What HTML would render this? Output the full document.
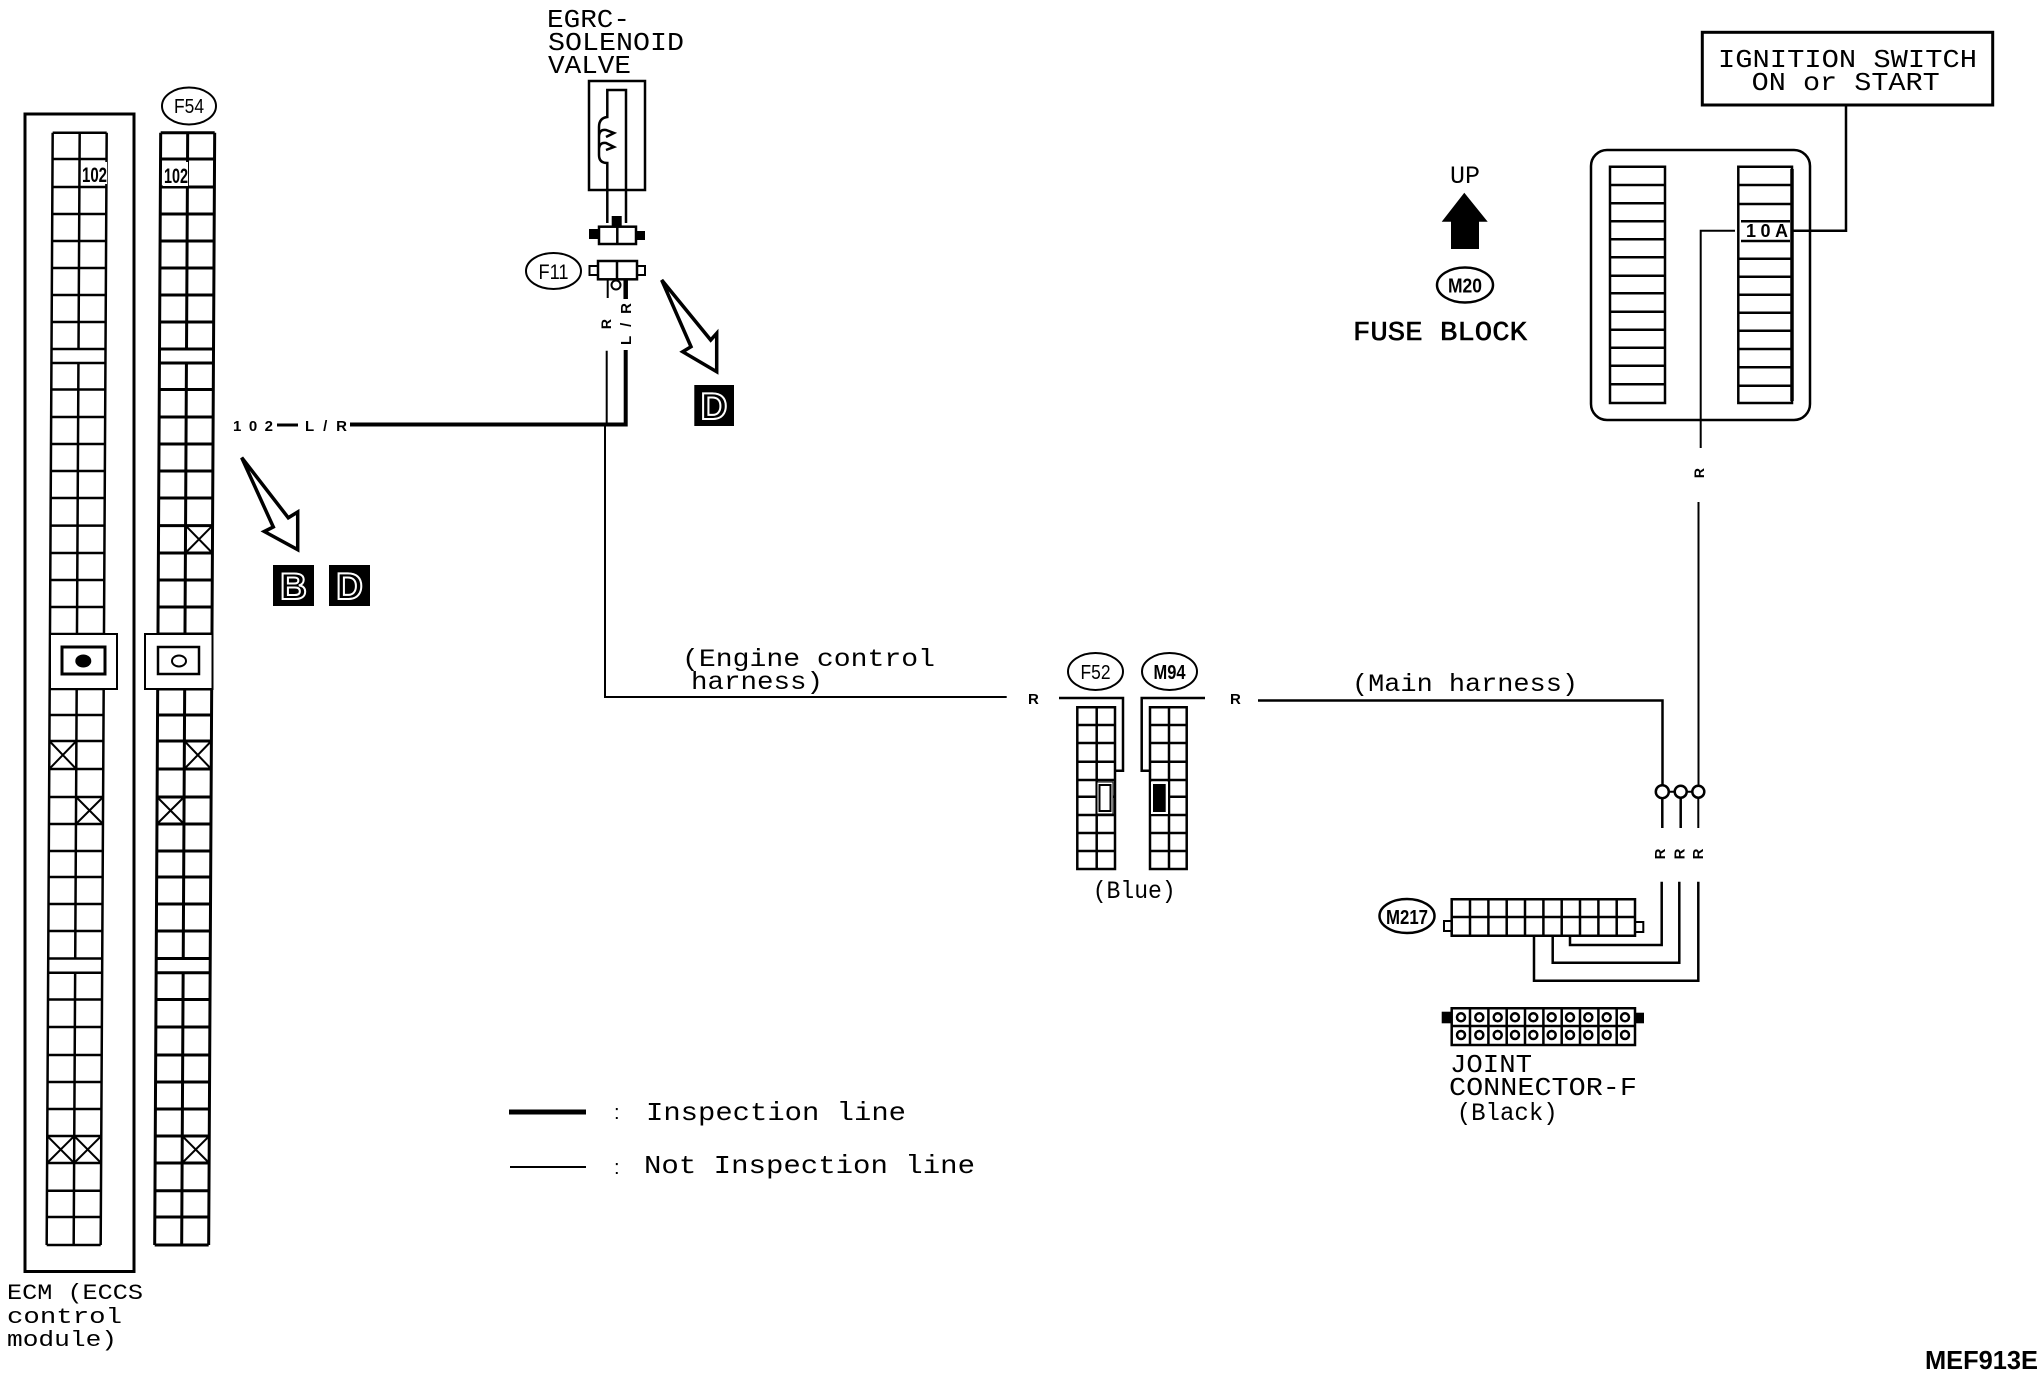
<!DOCTYPE html>
<html><head><meta charset="utf-8"><title>MEF913E</title>
<style>html,body{margin:0;padding:0;background:#fff}svg{display:block}
text{font-family:"Liberation Sans",sans-serif;fill:#000}
text.m{font-family:"Liberation Mono",monospace}
.b{font-weight:bold}</style></head><body>
<svg width="2044" height="1376" viewBox="0 0 2044 1376" xmlns="http://www.w3.org/2000/svg">
<rect width="2044" height="1376" fill="#fff"/>
<defs>
<path id="g" fill="none" stroke="#000" d="M0 132.7H54M0 159H54M0 187H54M0 214H54M0 241H54M0 268H54M0 295H54M0 322H54M0 349H54M0 363H54M0 389.5H54M0 417H54M0 444H54M0 471H54M0 498H54M0 525.6H54M0 553H54M0 580H54M0 607H54M0 634H54M0 689H54M0 715H54M0 741H54M0 769H54M0 797H54M0 824H54M0 851H54M0 877H54M0 904H54M0 931H54M0 958.5H54M0 972.7H54M0 999.5H54M0 1027H54M0 1055H54M0 1082H54M0 1109H54M0 1136H54M0 1163H54M0 1190.7H54M0 1217H54M0 1245H54M0 132.7V1245M54 132.7V1245M27 132.7V349M27 363V958.5M27 972.7V1245"/>
</defs>

<!-- ECM -->
<rect x="25" y="114" width="109" height="1157.5" fill="none" stroke="#000" stroke-width="3"/>
<g transform="matrix(1 0 -0.0054 1 53.4 0)" stroke-width="2.5">
<use href="#g"/>
<path fill="none" stroke="#000" stroke-width="2" d="M0 741L27 769M27 741L0 769M27 797L54 824M54 797L27 824M0 1136L27 1163M27 1136L0 1163M27 1136L54 1163M54 1136L27 1163"/>
</g>
<rect x="82" y="162" width="25" height="22" fill="#fff"/>
<text class="b" x="82" y="182" font-size="21" textLength="25" lengthAdjust="spacingAndGlyphs">102</text>
<rect x="50" y="634" width="67" height="55" fill="#fff" stroke="#000" stroke-width="2"/>
<rect x="62" y="647" width="43" height="27" fill="#fff" stroke="#000" stroke-width="3"/>
<ellipse cx="83.3" cy="661" rx="8" ry="6.5" fill="#000"/>

<!-- F54 -->
<g transform="matrix(1 0 -0.0054 1 161.4 0)" stroke-width="3">
<use href="#g"/>
<path fill="none" stroke="#000" stroke-width="2" d="M27 525.6L54 553M54 525.6L27 553M27 741L54 769M54 741L27 769M0 797L27 824M27 797L0 824M27 1136L54 1163M54 1136L27 1163"/>
</g>
<rect x="163" y="162" width="25" height="24" fill="#fff"/>
<text class="b" x="164" y="183" font-size="21" textLength="24" lengthAdjust="spacingAndGlyphs">102</text>
<rect x="145" y="634" width="67.5" height="55" fill="#fff" stroke="#000" stroke-width="2"/>
<rect x="158" y="647" width="41" height="27" fill="#fff" stroke="#000" stroke-width="2.5"/>
<ellipse cx="179" cy="661" rx="7" ry="5.5" fill="#fff" stroke="#000" stroke-width="2"/>
<ellipse cx="189" cy="106" rx="27" ry="18.5" fill="#fff" stroke="#000" stroke-width="2"/>
<text x="189" y="113" font-size="20" text-anchor="middle" textLength="30" lengthAdjust="spacingAndGlyphs">F54</text>

<text class="m" x="7" y="1299" font-size="22" textLength="136" lengthAdjust="spacingAndGlyphs">ECM (ECCS</text>
<text class="m" x="7" y="1323" font-size="22" textLength="115" lengthAdjust="spacingAndGlyphs">control</text>
<text class="m" x="7" y="1346" font-size="22" textLength="110" lengthAdjust="spacingAndGlyphs">module)</text>

<!-- 102 L/R -->
<text class="b" x="233" y="431" font-size="15" textLength="40">102</text>
<path d="M277 425H298" stroke="#000" stroke-width="3"/>
<text class="b" x="305" y="431" font-size="15" textLength="42">L/R</text>
<path d="M350 424.5H625.7V350" fill="none" stroke="#000" stroke-width="4"/>
<path d="M606.7 350.7V425L605 425V697H1006.7" fill="none" stroke="#000" stroke-width="2"/>

<!-- arrow BD -->
<path d="M241.7 457.6L288.3 517.8L297.7 512V549.7L264.3 531.5L273.3 527Z" fill="#fff" stroke="#000" stroke-width="3.5" stroke-linejoin="miter"/>
<rect x="273" y="565" width="41" height="41" fill="#000"/>
<text class="b" x="293.5" y="599" font-size="37" text-anchor="middle" style="fill:#000;stroke:#fff;stroke-width:2">B</text>
<rect x="329" y="565" width="41" height="41" fill="#000"/>
<text class="b" x="349.5" y="599" font-size="37" text-anchor="middle" style="fill:#000;stroke:#fff;stroke-width:2">D</text>

<!-- Solenoid -->
<text class="m" x="547" y="27" font-size="26" textLength="83" lengthAdjust="spacingAndGlyphs">EGRC-</text>
<text class="m" x="548" y="50" font-size="26" textLength="136" lengthAdjust="spacingAndGlyphs">SOLENOID</text>
<text class="m" x="548" y="73" font-size="26" textLength="83" lengthAdjust="spacingAndGlyphs">VALVE</text>
<rect x="589" y="81" width="56" height="109" fill="#fff" stroke="#000" stroke-width="2.5"/>
<path fill="none" stroke="#000" stroke-width="2.5" d="M607.3 223V163Q599 163 599 155V150Q599 142 606 143L614 147L606 150M599 150V137Q599 129 606 130L614 133L606 137M599 137V127Q599 118 607.3 117V90H626V223"/>
<rect x="599" y="226.7" width="37" height="17.3" fill="#fff" stroke="#000" stroke-width="2.5"/>
<path d="M617.3 226.7V244" stroke="#000" stroke-width="2.5"/>
<rect x="589" y="229" width="10" height="10" fill="#000"/>
<rect x="636" y="231" width="9" height="9" fill="#000"/>
<rect x="611.7" y="216" width="10" height="11" fill="#000"/>
<rect x="589.5" y="266" width="8.5" height="9" fill="#fff" stroke="#000" stroke-width="2"/>
<rect x="637" y="266" width="8" height="9" fill="#fff" stroke="#000" stroke-width="2"/>
<rect x="598" y="261" width="39" height="18.3" fill="#fff" stroke="#000" stroke-width="2.5"/>
<path d="M617 261V279" stroke="#000" stroke-width="2.5"/>
<path d="M607.7 279V298" stroke="#000" stroke-width="2"/>
<path d="M625.7 279V299" stroke="#000" stroke-width="4.5"/>
<circle cx="616" cy="285" r="4.5" fill="#fff" stroke="#000" stroke-width="2"/>
<ellipse cx="553.5" cy="271" rx="27.5" ry="18" fill="#fff" stroke="#000" stroke-width="2"/>
<text x="553.5" y="279" font-size="21" text-anchor="middle" textLength="30" lengthAdjust="spacingAndGlyphs">F11</text>
<text class="b" transform="translate(611 324) rotate(-90)" font-size="14" text-anchor="middle">R</text>
<text class="b" transform="translate(631 324) rotate(-90)" font-size="15" text-anchor="middle" textLength="42">L/R</text>
<path d="M661.7 280L710.7 340L716.7 333.3V371.7L682.7 351.7L691 346.7Z" fill="#fff" stroke="#000" stroke-width="3.5"/>
<rect x="694.3" y="385" width="39.7" height="41" fill="#000"/>
<text class="b" x="714" y="419" font-size="37" text-anchor="middle" style="fill:#000;stroke:#fff;stroke-width:2">D</text>

<!-- harness text -->
<text class="m" x="682" y="666" font-size="25" textLength="253" lengthAdjust="spacingAndGlyphs">(Engine control</text>
<text class="m" x="691" y="689" font-size="25" textLength="132" lengthAdjust="spacingAndGlyphs">harness)</text>
<text class="m" x="1352" y="691" font-size="25" textLength="226" lengthAdjust="spacingAndGlyphs">(Main harness)</text>
<text class="b" x="1028" y="704" font-size="15">R</text>
<text class="b" x="1230" y="704" font-size="15">R</text>

<!-- F52 / M94 -->
<ellipse cx="1095.5" cy="671.5" rx="27.5" ry="18.5" fill="#fff" stroke="#000" stroke-width="2"/>
<text x="1095.5" y="679" font-size="20" text-anchor="middle" textLength="30" lengthAdjust="spacingAndGlyphs">F52</text>
<ellipse cx="1169.5" cy="671.5" rx="27.5" ry="18.5" fill="#fff" stroke="#000" stroke-width="2"/>
<text class="b" x="1169.5" y="679" font-size="20" text-anchor="middle" textLength="32" lengthAdjust="spacingAndGlyphs">M94</text>
<path fill="none" stroke="#000" stroke-width="2.5" d="M1059 698H1123V770.7H1116M1205 698H1141.7V770.7H1150"/>
<path fill="none" stroke="#000" stroke-width="2.5" d="M1077.3 707.3H1115V869H1077.3ZM1096.7 707.3V869M1077.3 725H1115M1077.3 743H1115M1077.3 761.7H1115M1077.3 780H1115M1077.3 796.7H1115M1077.3 815H1115M1077.3 833H1115M1077.3 851H1115"/>
<rect x="1097" y="782" width="16" height="32" fill="#fff" stroke="#000" stroke-width="1"/>
<rect x="1099.5" y="785" width="11" height="26" fill="#fff" stroke="#000" stroke-width="2"/>
<path fill="none" stroke="#000" stroke-width="2.5" d="M1150 707.3H1186.7V869H1150ZM1169 707.3V869M1150 725H1186.7M1150 743H1186.7M1150 761.7H1186.7M1150 780H1186.7M1150 796.7H1186.7M1150 815H1186.7M1150 833H1186.7M1150 851H1186.7"/>
<rect x="1151" y="782" width="17" height="32" fill="#fff"/>
<rect x="1153" y="784" width="12.7" height="28" fill="#000"/>
<text class="m" x="1092.7" y="898" font-size="25" textLength="83" lengthAdjust="spacingAndGlyphs">(Blue)</text>

<!-- main harness wire -->
<path d="M1258 700.5H1662.5V785" fill="none" stroke="#000" stroke-width="2.5"/>
<path d="M1698.5 502V785" fill="none" stroke="#000" stroke-width="2"/>

<!-- splice -->
<path d="M1662.3 791.7H1698.3" stroke="#000" stroke-width="2"/>
<circle cx="1662.3" cy="791.7" r="6.5" fill="#fff" stroke="#000" stroke-width="2.5"/>
<circle cx="1680.7" cy="791.7" r="6" fill="#fff" stroke="#000" stroke-width="2.5"/>
<circle cx="1698.3" cy="791.7" r="6" fill="#fff" stroke="#000" stroke-width="2.5"/>
<path d="M1662.3 798V828M1680.7 798V828" stroke="#000" stroke-width="2.5"/>
<path d="M1698.3 798V828" stroke="#000" stroke-width="2"/>
<text class="b" transform="translate(1665 854) rotate(-90)" font-size="15" text-anchor="middle">R</text>
<text class="b" transform="translate(1684.5 854) rotate(-90)" font-size="15" text-anchor="middle">R</text>
<text class="b" transform="translate(1703 854) rotate(-90)" font-size="15" text-anchor="middle">R</text>
<path fill="none" stroke="#000" stroke-width="2.5" d="M1661.7 881.7V945H1570V936.7M1679.3 881.7V962.7H1552.7V936M1698.3 881.7V980.7H1534V936"/>

<!-- M217 -->
<ellipse cx="1407" cy="916" rx="27.5" ry="17" fill="#fff" stroke="#000" stroke-width="2.5"/>
<text class="b" x="1407" y="924" font-size="20" text-anchor="middle" textLength="42" lengthAdjust="spacingAndGlyphs">M217</text>
<rect x="1444" y="921" width="7.7" height="10" fill="#fff" stroke="#000" stroke-width="2"/>
<rect x="1635" y="922" width="8.3" height="10" fill="#fff" stroke="#000" stroke-width="2"/>
<path fill="none" stroke="#000" stroke-width="2.5" d="M1451.7 899.3H1635V935.7H1451.7ZM1451.7 917H1635M1470 899.3V935.7M1488.4 899.3V935.7M1506.7 899.3V935.7M1525 899.3V935.7M1543.4 899.3V935.7M1561.7 899.3V935.7M1580 899.3V935.7M1598.4 899.3V935.7M1616.7 899.3V935.7"/>

<!-- Joint connector -->
<rect x="1441.7" y="1011.7" width="10" height="11.6" fill="#000"/>
<rect x="1635" y="1012.7" width="9" height="10.6" fill="#000"/>
<path fill="none" stroke="#000" stroke-width="2.5" d="M1451.7 1008.3H1635V1045H1451.7ZM1451.7 1026H1635M1470 1008.3V1045M1488.4 1008.3V1045M1506.7 1008.3V1045M1525 1008.3V1045M1543.4 1008.3V1045M1561.7 1008.3V1045M1580 1008.3V1045M1598.4 1008.3V1045M1616.7 1008.3V1045"/>
<g fill="none" stroke="#000" stroke-width="2.5">
<circle cx="1461" cy="1017.3" r="4"/><circle cx="1479.3" cy="1017.3" r="4"/><circle cx="1497.7" cy="1017.3" r="4"/><circle cx="1515" cy="1017.3" r="4"/><circle cx="1533.3" cy="1017.3" r="4"/><circle cx="1551.7" cy="1017.3" r="4"/><circle cx="1570" cy="1017.3" r="4"/><circle cx="1588.3" cy="1017.3" r="4"/><circle cx="1606.7" cy="1017.3" r="4"/><circle cx="1625" cy="1017.3" r="4"/>
<circle cx="1461" cy="1035" r="4"/><circle cx="1479.3" cy="1035" r="4"/><circle cx="1497.7" cy="1035" r="4"/><circle cx="1515" cy="1035" r="4"/><circle cx="1533.3" cy="1035" r="4"/><circle cx="1551.7" cy="1035" r="4"/><circle cx="1570" cy="1035" r="4"/><circle cx="1588.3" cy="1035" r="4"/><circle cx="1606.7" cy="1035" r="4"/><circle cx="1625" cy="1035" r="4"/>
</g>
<text class="m" x="1450" y="1072" font-size="26" textLength="82" lengthAdjust="spacingAndGlyphs">JOINT</text>
<text class="m" x="1449" y="1095" font-size="26" textLength="188" lengthAdjust="spacingAndGlyphs">CONNECTOR-F</text>
<text class="m" x="1456.7" y="1120" font-size="25" textLength="101" lengthAdjust="spacingAndGlyphs">(Black)</text>

<!-- Legend -->
<path d="M509 1112H586" stroke="#000" stroke-width="5"/>
<path d="M510 1167H586" stroke="#000" stroke-width="2"/>
<text x="614" y="1119" font-size="20">:</text>
<text x="614" y="1174" font-size="20">:</text>
<text class="m" x="646" y="1120" font-size="26" textLength="260" lengthAdjust="spacingAndGlyphs">Inspection line</text>
<text class="m" x="644" y="1173" font-size="26" textLength="331" lengthAdjust="spacingAndGlyphs">Not Inspection line</text>

<!-- UP + fuse block label -->
<text class="m" x="1450" y="183" font-size="25" textLength="30" lengthAdjust="spacingAndGlyphs">UP</text>
<path d="M1464.3 192.7L1487.7 221.7H1479V249H1451V221.7H1441.7Z" fill="#000"/>
<ellipse cx="1465" cy="285" rx="28" ry="17.5" fill="#fff" stroke="#000" stroke-width="2.5"/>
<text class="b" x="1465" y="292.5" font-size="20" text-anchor="middle" textLength="34" lengthAdjust="spacingAndGlyphs">M20</text>
<text class="m" x="1353" y="340" font-size="27" textLength="174" lengthAdjust="spacingAndGlyphs" style="stroke:#000;stroke-width:.6">FUSE BLOCK</text>

<!-- Fuse block -->
<rect x="1591" y="150" width="219" height="270" rx="16" ry="16" fill="#fff" stroke="#000" stroke-width="2.5"/>
<path fill="none" stroke="#000" stroke-width="2.5" d="M1610 166.7H1665V403H1610ZM1610 185H1665M1610 203.3H1665M1610 221.3H1665M1610 239.3H1665M1610 257.3H1665M1610 275.7H1665M1610 293.3H1665M1610 311.7H1665M1610 329.7H1665M1610 347.7H1665M1610 365.7H1665M1610 384.3H1665"/>
<path fill="none" stroke="#000" stroke-width="2.5" d="M1738.3 166.7H1792V403H1738.3ZM1738.3 185H1792M1738.3 204H1792M1741 221.3H1790M1741 241H1790M1738.3 258.7H1792M1738.3 276.7H1792M1738.3 294.7H1792M1738.3 312.7H1792M1738.3 330.7H1792M1738.3 349H1792M1738.3 367.3H1792M1738.3 385.7H1792"/>
<path d="M1792 169V401" stroke="#000" stroke-width="3.5"/>
<text class="b" x="1746" y="237" font-size="18" textLength="42">10A</text>
<path d="M1735 230.7H1700.7V448" fill="none" stroke="#000" stroke-width="2"/>
<path d="M1793.3 230.7H1846V105" fill="none" stroke="#000" stroke-width="2.5"/>
<text class="b" transform="translate(1704 473) rotate(-90)" font-size="14" text-anchor="middle">R</text>

<!-- Ignition -->
<rect x="1702.3" y="32.3" width="290.4" height="72.7" fill="#fff" stroke="#000" stroke-width="3"/>
<text class="m" x="1718" y="67" font-size="26" textLength="259" lengthAdjust="spacingAndGlyphs">IGNITION SWITCH</text>
<text class="m" x="1751.7" y="90" font-size="26" textLength="188" lengthAdjust="spacingAndGlyphs">ON or START</text>

<text class="b" x="1925" y="1369" font-size="26" textLength="113" lengthAdjust="spacingAndGlyphs">MEF913E</text>
</svg>
</body></html>
